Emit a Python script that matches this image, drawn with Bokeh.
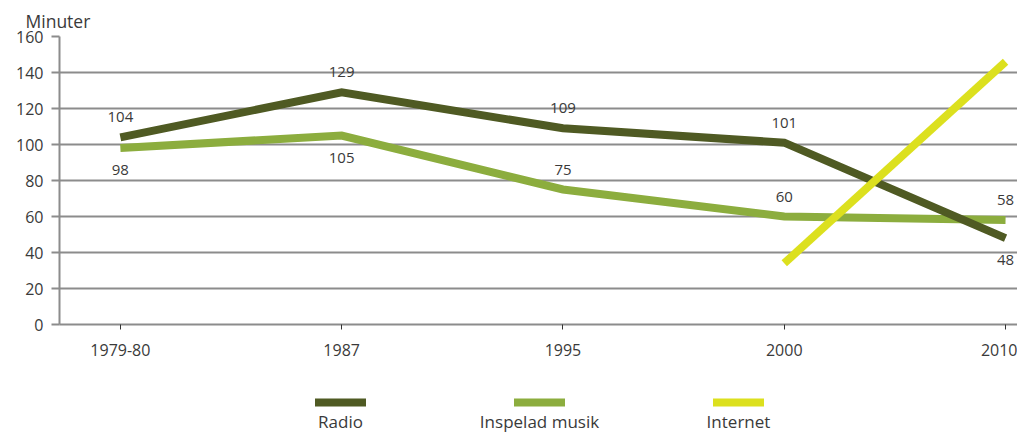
from bokeh.plotting import figure
from bokeh.models import Range1d, FixedTicker, ColumnDataSource
from bokeh.layouts import column
from bokeh.embed import file_html
from bokeh.resources import INLINE
from bokeh.core.properties import value

# Minutes per day spent on each medium
years = ["1979-80", "1987", "1995", "2000", "2010"]
radio = [104, 129, 109, 101, 48]
musik = [98, 105, 75, 60, 58]
internet_years = ["2000", "2010"]
internet = [34, 146]
y_ticks = [0, 20, 40, 60, 80, 100, 120, 140, 160]
series_names = ["Radio", "Inspelad musik", "Internet"]

# which side of its line each value label sits on (1 above, -1 below)
radio_side = [1, 1, 1, 1, -1]
musik_side = [-1, -1, 1, 1, 1]

FONT = "Open Sans"
TEXT = "#3a3a3a"
GRID = "#8c8c8c"
C_RADIO = "#4f5a23"
C_MUSIK = "#8cad3e"
C_NET = "#dce01e"
colors = [C_RADIO, C_MUSIK, C_NET]

xs = list(range(len(years)))

p = figure(width=1017, height=372,
           x_range=Range1d(-0.275, len(years) - 1 + 0.054),
           y_range=Range1d(y_ticks[0], y_ticks[-1]),
           output_backend="svg", toolbar_location=None,
           min_border_left=59, min_border_right=0,
           min_border_top=36, min_border_bottom=48,
           title="Minuter")
p.outline_line_color = None
p.background_fill_color = "white"
p.border_fill_color = "white"

p.title.text_font = FONT
p.title.text_font_size = "17.5px"
p.title.text_font_style = "normal"
p.title.text_color = TEXT
p.title.align = "left"
p.title.offset = -34
p.title.standoff = 8

# y axis
p.yaxis.ticker = FixedTicker(ticks=y_ticks)
p.yaxis.axis_line_color = GRID
p.yaxis.axis_line_width = 2
p.yaxis.major_tick_out = 8
p.yaxis.major_tick_in = 0
p.yaxis.major_tick_line_color = GRID
p.yaxis.major_tick_line_width = 2
p.yaxis.minor_tick_line_color = None
p.yaxis.major_label_standoff = 8
p.yaxis.major_label_text_font = FONT
p.yaxis.major_label_text_font_size = "16px"
p.yaxis.major_label_text_color = TEXT

# x axis
p.xaxis.ticker = FixedTicker(ticks=xs)
p.xaxis.major_label_overrides = {i: y for i, y in enumerate(years)}
p.xaxis.axis_line_color = GRID
p.xaxis.axis_line_width = 2
p.xaxis.major_tick_out = 5
p.xaxis.major_tick_in = 0
p.xaxis.major_tick_line_color = "#333333"
p.xaxis.major_tick_line_width = 1
p.xaxis.minor_tick_line_color = None
p.xaxis.major_label_standoff = 14
p.xaxis.major_label_text_font = FONT
p.xaxis.major_label_text_font_size = "16px"
p.xaxis.major_label_text_color = TEXT

p.xgrid.visible = False
p.ygrid.ticker = FixedTicker(ticks=y_ticks)
p.ygrid.grid_line_color = GRID
p.ygrid.grid_line_width = 2

line_kw = dict(line_width=8, line_join="miter", line_cap="butt")
p.line(xs, musik, line_color=C_MUSIK, **line_kw)
p.line(xs, radio, line_color=C_RADIO, **line_kw)
p.line([years.index(y) for y in internet_years], internet, line_color=C_NET, **line_kw)

# value labels
def add_labels(vals, sides):
    src = ColumnDataSource(dict(
        x=xs, y=vals, t=[str(v) for v in vals],
        dy=[-20 if s > 0 else 22 for s in sides]))
    p.text(x="x", y="y", text="t", y_offset="dy", source=src,
           text_align="center", text_baseline="middle",
           text_font=value(FONT), text_font_size="15px", text_color=TEXT)

add_labels(radio, radio_side)
add_labels(musik, musik_side)

# legend strip below the chart; its frame lines up with the chart frame (x 59..1017)
lf = figure(width=1017, height=60, x_range=Range1d(59, 1017), y_range=Range1d(60, 0),
            output_backend="svg", toolbar_location=None,
            min_border=0, min_border_left=59, min_border_right=0,
            min_border_top=0, min_border_bottom=0)
lf.axis.visible = False
lf.grid.visible = False
lf.outline_line_color = None
lf.border_fill_color = "white"
centers = [340 + 199 * i for i in range(len(series_names))]
lf.rect(x=centers, y=[30] * len(centers), width=51, height=8,
        fill_color=colors, line_color=None)
lf.text(x=centers, y=[49] * len(centers), text=series_names,
        text_align="center", text_baseline="middle",
        text_font=value(FONT), text_font_size="17px", text_color=TEXT)

layout = column(p, lf, spacing=0)
open("out.html", "w").write(file_html(layout, INLINE))
